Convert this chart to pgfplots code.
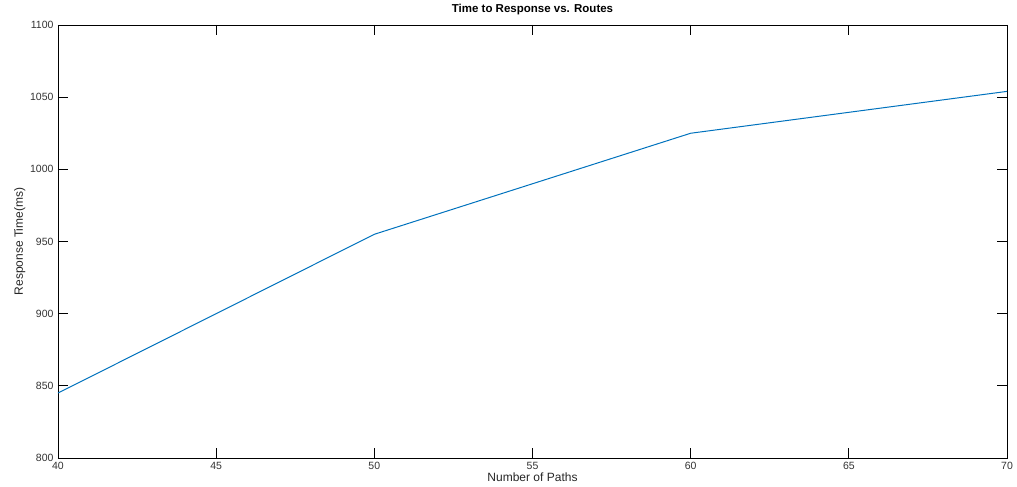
\documentclass[border=0pt]{standalone}
\usepackage{fontspec}
\setmainfont{Liberation Sans}
\usepackage{pgfplots}
\pgfplotsset{compat=1.18}
\definecolor{mblue}{RGB}{0,114,189}
\begin{document}
\fontsize{10}{12}\selectfont
\begin{tikzpicture}
\path[use as bounding box] (-58pt,-29pt) rectangle (959pt,458pt);
\begin{axis}[
  at={(0pt,0pt)}, anchor=south west,
  scale only axis, width=949pt, height=433pt,
  xmin=40, xmax=70, ymin=800, ymax=1100,
  xtick={40,45,...,70}, ytick={800,850,...,1100},
  tick align=inside, major tick length=10pt,
  tick style={black, line width=0.8pt},
  axis line style={black, line width=0.8pt},
  /pgf/number format/assume math mode=true,
  /pgf/number format/1000 sep={},
  ticklabel style={font=\fontsize{10.5}{12}\selectfont, text=black!80},
  xticklabel style={yshift=-1pt},
  yticklabel style={xshift=-1pt},
  title={\textbf{Time to Response vs. Routes}},
  title style={font=\fontsize{11.5}{13}\selectfont, at={(0.5,1)}, anchor=south, yshift=1pt},
  xlabel={Number of Paths},
  ylabel={Response Time(ms)},
  label style={font=\fontsize{12}{14}\selectfont, text=black!85},
  xlabel style={yshift=4pt},
  ylabel style={yshift=-2pt},
]
\addplot[mblue, line width=1pt] coordinates {(40,845) (50,955) (60,1025) (70,1054)};
\end{axis}
\end{tikzpicture}
\end{document}
